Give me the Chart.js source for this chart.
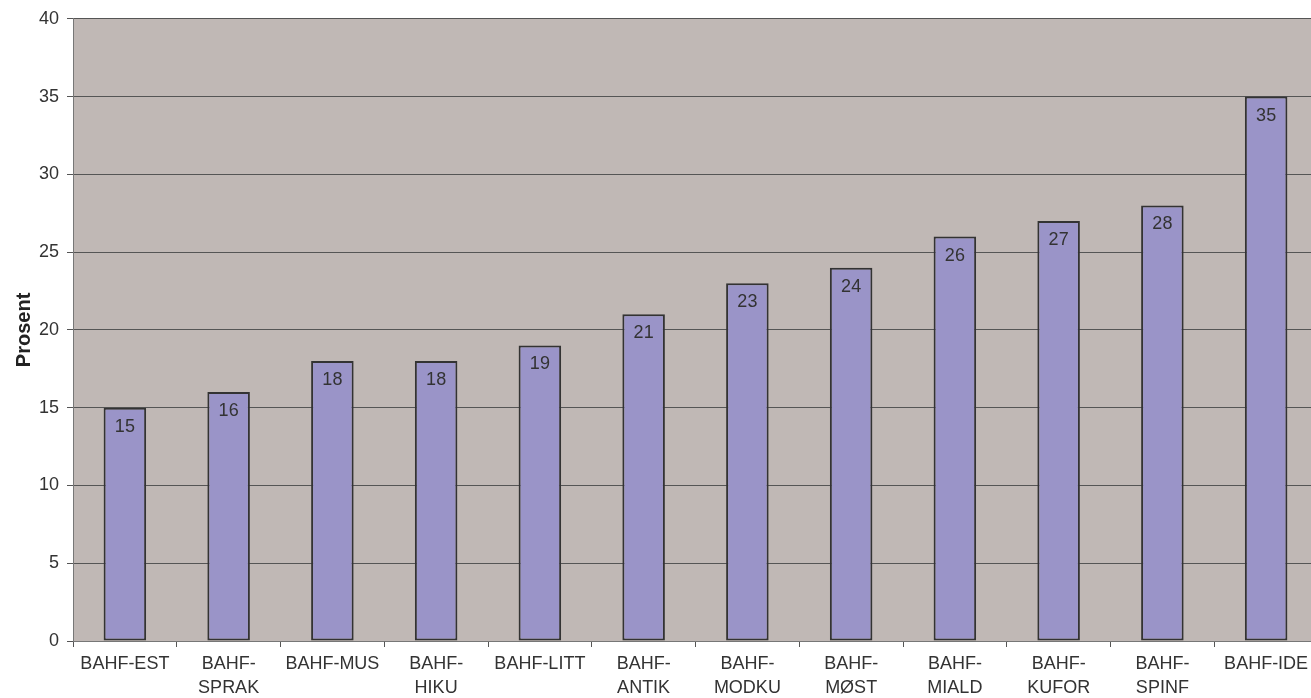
<!DOCTYPE html>
<html>
<head>
<meta charset="utf-8">
<script src="https://cdn.jsdelivr.net/npm/chart.js@4.4.1/dist/chart.umd.min.js"></script>
<style>
    body { margin: 0; background: #ffffff; overflow: hidden; }
    #wrap { width: 1320px; height: 698px; }
</style>
</head>
<body>
<div id="wrap"><canvas id="bars" width="1320" height="698"></canvas></div>
<script>

// Data
const categories = [
    'BAHF-EST', ['BAHF-', 'SPRAK'], 'BAHF-MUS', ['BAHF-', 'HIKU'], 'BAHF-LITT', ['BAHF-', 'ANTIK'],
    ['BAHF-', 'MODKU'], ['BAHF-', 'MØST'], ['BAHF-', 'MIALD'], ['BAHF-', 'KUFOR'], ['BAHF-', 'SPINF'], 'BAHF-IDE'
];
const values = [15, 16, 18, 18, 19, 21, 23, 24, 26, 27, 28, 35];
const yTicks = [0, 5, 10, 15, 20, 25, 30, 35, 40];

const FONT = 'Liberation Sans, Arial, sans-serif';

// Plot background
const plotBackground = {
    id: 'plotBackground',
    beforeDraw(chart) {
        const a = chart.chartArea, ctx = chart.ctx;
        ctx.save();
        ctx.fillStyle = '#c0b8b5';
        ctx.fillRect(a.left, a.top, a.right - a.left, a.bottom - a.top);
        ctx.restore();
    }
};

// Value labels inside the top of each bar
const valueLabels = {
    id: 'valueLabels',
    afterDatasetsDraw(chart) {
        const ctx = chart.ctx;
        const meta = chart.getDatasetMeta(0);
        ctx.save();
        ctx.font = '18px ' + FONT;
        ctx.fillStyle = '#333333';
        ctx.textAlign = 'center';
        ctx.textBaseline = 'middle';
        meta.data.forEach(function(bar, i) {
            ctx.fillText(String(values[i]), bar.x, bar.y + 19);
        });
        ctx.restore();
    }
};

const ctx = document.getElementById('bars');

new Chart(ctx, {
    type: 'bar',
    data: {
        labels: categories,
        datasets: [{
            data: values,
            backgroundColor: '#9a94c8',
            borderColor: '#333333',
            borderWidth: 2,
            borderSkipped: false,
            categoryPercentage: 1,
            barPercentage: 0.41
        }]
    },
    options: {
        responsive: false,
        animation: false,
        layout: { padding: { top: 11, right: 2, bottom: 0, left: 0 } },
        plugins: {
            legend: { display: false },
            tooltip: { enabled: false }
        },
        scales: {
            x: {
                offset: true,
                afterFit(scale) {
                    scale.height = 57;
                },
                grid: {
                    offset: true,
                    drawOnChartArea: false,
                    drawTicks: true,
                    tickLength: 6,
                    color: '#555555'
                },
                border: { color: '#777777' },
                ticks: {
                    color: '#333333',
                    font: { family: FONT, size: 18, lineHeight: 1.28 },
                    maxRotation: 0,
                    autoSkip: false,
                    padding: 6
                }
            },
            y: {
                min: 0,
                max: 40,
                afterBuildTicks(scale) {
                    scale.ticks = yTicks.map(function(v) { return { value: v }; });
                },
                afterFit(scale) {
                    scale.width = 73;
                },
                grid: {
                    color: '#555555',
                    tickLength: 6,
                    lineWidth: 1
                },
                border: { color: '#777777' },
                ticks: {
                    color: '#333333',
                    font: { family: FONT, size: 18 },
                    padding: 8
                },
                title: {
                    display: true,
                    text: 'Prosent',
                    color: '#222222',
                    font: { family: FONT, size: 20, weight: 'bold' },
                    padding: { top: 12, bottom: 4 }
                }
            }
        }
    },
    plugins: [plotBackground, valueLabels]
});
</script>
</body>
</html>
